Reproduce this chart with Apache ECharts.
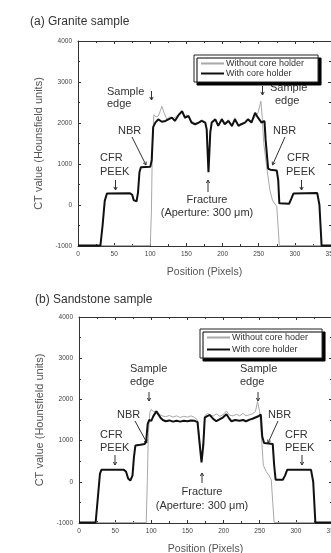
<!DOCTYPE html>
<html>
<head>
<meta charset="utf-8">
<script src="https://cdn.jsdelivr.net/npm/echarts@6/dist/echarts.min.js"></script>
<style>
  html, body { margin: 0; padding: 0; background: #fff; }
  #chart { width: 331px; height: 553px; }
</style>
</head>
<body>
<div id="chart"></div>
<script>
// (a) granite, with core holder (thick black)
const graniteWithPos = [0, 31, 34, 37, 40, 72, 75, 77, 79, 81, 83, 85, 87, 100, 102, 104, 107, 111, 116, 121, 125, 130, 134, 139, 144, 148, 153, 157, 162, 167, 171, 176, 178, 180.5, 183, 185, 190, 194, 199, 203, 208, 213, 217, 222, 226, 231, 235, 240, 245, 249, 254, 258, 259.5, 263, 266, 275, 277, 278.5, 292, 295, 298, 331, 334, 337, 350];
const graniteWithVal = [-990, -990, -500, 100, 280, 285, 250, 120, 80, 90, 300, 800, 920, 930, 1100, 1900, 2010, 2090, 2030, 2050, 2090, 2130, 2050, 2190, 2290, 2130, 2170, 2010, 1970, 2010, 2050, 2010, 1850, 800, 1770, 2010, 2090, 1930, 2090, 1970, 2050, 1930, 2090, 1930, 1970, 2010, 2090, 2010, 2250, 2130, 2010, 2050, 1600, 890, 860, 840, 600, 40, 30, 150, 280, 290, 0, -990, -990];

// (a) granite, without core holder (thin gray)
const graniteWithoutPos = [0, 100, 101.5, 103, 105, 108, 111, 114, 116, 119, 123, 127, 131, 135, 139, 144, 148, 150, 153, 157, 162, 167, 171, 176, 178, 180.5, 183, 185, 190, 194, 199, 203, 208, 213, 217, 222, 226, 231, 235, 240, 245, 249, 253, 255, 257, 261, 265.5, 269, 275, 278.5, 350];
const graniteWithoutVal = [-990, -990, -200, 1500, 2200, 2150, 2170, 2300, 2410, 2250, 2090, 2150, 2100, 2150, 2200, 2250, 2100, 2200, 2150, 2050, 1990, 2000, 2080, 2030, 1870, 820, 1800, 2030, 2060, 1950, 2110, 2000, 2080, 1900, 2130, 1960, 1990, 2000, 2100, 2050, 2150, 2250, 2530, 2100, 1500, 930, 360, 120, -40, -990, -990];

// (b) sandstone, with core holder
const sandWithPos = [0, 23, 26, 29, 31, 62, 65, 68, 71, 74, 76, 78, 85, 91, 93, 95, 97, 100, 103, 107, 110, 113, 116, 120, 125, 130, 135, 140, 145, 150, 155, 160, 164, 167, 169.5, 172, 174, 178, 181, 186, 190, 195, 199, 204, 208, 211, 216, 222, 227, 231, 236, 240, 244, 248, 251.5, 253.5, 256, 268, 270, 272, 282, 285, 288, 321, 324, 327, 350];
const sandWithVal = [-990, -990, -400, 200, 290, 290, 250, 80, 30, 150, 600, 880, 900, 920, 1000, 1400, 1500, 1480, 1600, 1710, 1630, 1550, 1500, 1470, 1490, 1460, 1480, 1460, 1480, 1470, 1490, 1480, 1450, 900, 470, 900, 1560, 1600, 1620, 1520, 1470, 1520, 1560, 1640, 1530, 1470, 1500, 1480, 1500, 1470, 1510, 1530, 1560, 1590, 1630, 1100, 940, 920, 400, 50, 50, 150, 290, 290, 0, -990, -990];

// (b) sandstone, without core holder
const sandWithoutPos = [0, 93, 94.5, 96, 98, 100, 103, 107, 110, 115, 120, 125, 130, 135, 140, 145, 150, 155, 160, 164, 167, 169.5, 172, 174, 178, 181, 186, 190, 195, 199, 204, 208, 213, 218, 222, 227, 231, 236, 240, 244, 247, 250, 252, 255, 259, 263, 266, 268, 270, 350];
const sandWithoutVal = [-990, -990, 0, 1200, 1680, 1760, 1700, 1720, 1650, 1600, 1580, 1610, 1570, 1600, 1560, 1590, 1570, 1600, 1560, 1500, 1000, 500, 1000, 1600, 1660, 1620, 1600, 1650, 1590, 1620, 1720, 1620, 1600, 1640, 1600, 1660, 1600, 1630, 1650, 1700, 1950, 1700, 1200, 400, 250, 150, 50, -500, -990, -990];

const xMin = 0, xMax = 350, xStep = 50;
const yMin = -1000, yMax = 4000, yStep = 1000;

const zip = (a, b) => a.map((x, i) => [x, b[i]]);

const FONT = '"Liberation Sans", Arial, sans-serif';
const INK = '#333';

const chart = echarts.init(document.getElementById('chart'), null, { renderer: 'canvas' });

function xAx(gridIndex, mirror) {
    return {
        type: 'value', gridIndex: gridIndex, min: xMin, max: xMax, interval: xStep,
        position: mirror ? 'top' : 'bottom',
        name: mirror ? '' : 'Position (Pixels)',
        nameLocation: 'middle', nameGap: 21,
        nameTextStyle: { fontFamily: FONT, fontSize: 10.5, color: '#555' },
        axisLine: { show: true, onZero: false, lineStyle: { color: INK, width: 1 } },
        axisTick: { show: true, inside: true, length: 3, lineStyle: { color: INK } },
        minorTick: { show: true, splitNumber: 2, length: 2, lineStyle: { color: INK } },
        axisLabel: { show: !mirror, fontFamily: FONT, fontSize: 6.5, color: '#444', margin: 5,
                     formatter: v => String(v) },
        splitLine: { show: false }
    };
}

function yAx(gridIndex, mirror) {
    return {
        type: 'value', gridIndex: gridIndex, min: yMin, max: yMax, interval: yStep,
        position: mirror ? 'right' : 'left',
        name: mirror ? '' : 'CT value (Hounsfield units)',
        nameLocation: 'middle', nameGap: 32,
        nameTextStyle: { fontFamily: FONT, fontSize: 11, color: '#555' },
        axisLine: { show: true, onZero: false, lineStyle: { color: INK, width: 1 } },
        axisTick: { show: true, inside: true, length: 3, lineStyle: { color: INK } },
        minorTick: { show: true, splitNumber: 2, length: 2, lineStyle: { color: INK } },
        axisLabel: { show: !mirror, fontFamily: FONT, fontSize: 6.5, color: '#444', margin: 6,
                     formatter: v => String(v) },
        splitLine: { show: false }
    };
}

function legend(names, left, top, gap) {
    return {
        data: names, orient: 'vertical', left: left, top: top,
        padding: [4, 14, 4, 6], itemGap: gap, itemWidth: 23, itemHeight: 8,
        itemStyle: { opacity: 0 },
        backgroundColor: '#fff', borderColor: '#222', borderWidth: 1,
        shadowColor: '#000', shadowBlur: 0, shadowOffsetX: 3, shadowOffsetY: 3,
        textStyle: { fontFamily: FONT, fontSize: 9, color: '#333', padding: [0, 0, 0, -3] },
        selectedMode: false
    };
}

function txt(x, y, s, align, size) {
    return {
        type: 'text', x: x, y: y, silent: true,
        style: { text: s, fontFamily: FONT, fontSize: size || 11, fill: '#333', align: align || 'left', verticalAlign: 'middle' }
    };
}

function arrow(x1, y1, x2, y2) {
    const a = Math.atan2(y2 - y1, x2 - x1);
    const h = 3.5;
    const p1 = [x2 - h * Math.cos(a - 0.5), y2 - h * Math.sin(a - 0.5)];
    const p2 = [x2 - h * Math.cos(a + 0.5), y2 - h * Math.sin(a + 0.5)];
    return [
        { type: 'line', silent: true, shape: { x1: x1, y1: y1, x2: x2, y2: y2 }, style: { stroke: '#333', lineWidth: 1 } },
        { type: 'polyline', silent: true, shape: { points: [p1, [x2, y2], p2] }, style: { stroke: '#333', lineWidth: 1, fill: null } }
    ];
}

const notes = [
    // (a) granite
    txt(30, 22, '(a) Granite sample', 'left', 12),
    txt(107, 92, 'Sample'), txt(107, 104, 'edge'), ...arrow(151.5, 91, 151.5, 100),
    txt(270, 88, 'Sample'), txt(275, 101, 'edge'), ...arrow(262.5, 86, 262.5, 95),
    txt(118, 131, 'NBR'), ...arrow(132, 137, 146, 165),
    txt(273, 131, 'NBR'), ...arrow(285, 137, 272.5, 165),
    txt(100, 158, 'CFR'), txt(100, 171.5, 'PEEK'), ...arrow(115.5, 180, 115.5, 190),
    txt(287, 158, 'CFR'), txt(286, 171.5, 'PEEK'), ...arrow(301.5, 180, 301.5, 190),
    ...arrow(208, 192, 208, 180),
    txt(207, 200, 'Fracture', 'center'), txt(207, 213, '(Aperture: 300 μm)', 'center'),
    // (b) sandstone
    txt(35, 300, '(b) Sandstone sample', 'left', 12),
    txt(130, 369, 'Sample'), txt(130, 382, 'edge'), ...arrow(149, 392, 149, 401),
    txt(240, 369, 'Sample'), txt(240, 382, 'edge'), ...arrow(258, 392, 258, 401),
    txt(117, 415, 'NBR'), ...arrow(135, 421, 147, 443),
    txt(268, 415, 'NBR'), ...arrow(278, 421, 268, 443),
    txt(100, 435, 'CFR'), txt(100, 448, 'PEEK'), ...arrow(115, 455, 115, 465),
    txt(285, 435, 'CFR'), txt(285, 448, 'PEEK'), ...arrow(302, 455, 302, 465),
    ...arrow(202, 483, 202, 473),
    txt(202, 492, 'Fracture', 'center'), txt(202, 506, '(Aperture: 300 μm)', 'center')
];

const grayLine = { color: '#a8a8a8', width: 1 };
const blackLine = { color: '#111', width: 2 };

const option = {
    animation: false,
    backgroundColor: '#fff',
    grid: [
        { left: 78, top: 41, width: 253, height: 205, outerBoundsMode: 'none', containLabel: false },
        { left: 79, top: 317, width: 253, height: 206, outerBoundsMode: 'none', containLabel: false }
    ],
    xAxis: [xAx(0, false), xAx(0, true), xAx(1, false), xAx(1, true)],
    yAxis: [yAx(0, false), yAx(0, true), yAx(1, false), yAx(1, true)],
    legend: [
        legend(['Without core holder', 'With core holder'], 194, 55, 1),
        legend(['Without core hoder', 'With core holder '], 200, 329, 3)
    ],
    graphic: notes,
    series: [
        { name: 'Without core holder', type: 'line', xAxisIndex: 0, yAxisIndex: 0, symbol: 'none',
          lineStyle: grayLine, itemStyle: { color: grayLine.color }, data: zip(graniteWithoutPos, graniteWithoutVal) },
        { name: 'With core holder', type: 'line', xAxisIndex: 0, yAxisIndex: 0, symbol: 'none',
          lineStyle: blackLine, itemStyle: { color: blackLine.color }, data: zip(graniteWithPos, graniteWithVal) },
        { name: 'Without core hoder', type: 'line', xAxisIndex: 2, yAxisIndex: 2, symbol: 'none',
          lineStyle: grayLine, itemStyle: { color: grayLine.color }, data: zip(sandWithoutPos, sandWithoutVal) },
        { name: 'With core holder ', type: 'line', xAxisIndex: 2, yAxisIndex: 2, symbol: 'none',
          lineStyle: blackLine, itemStyle: { color: blackLine.color }, data: zip(sandWithPos, sandWithVal) }
    ]
};

chart.setOption(option);
</script>
</body>
</html>
